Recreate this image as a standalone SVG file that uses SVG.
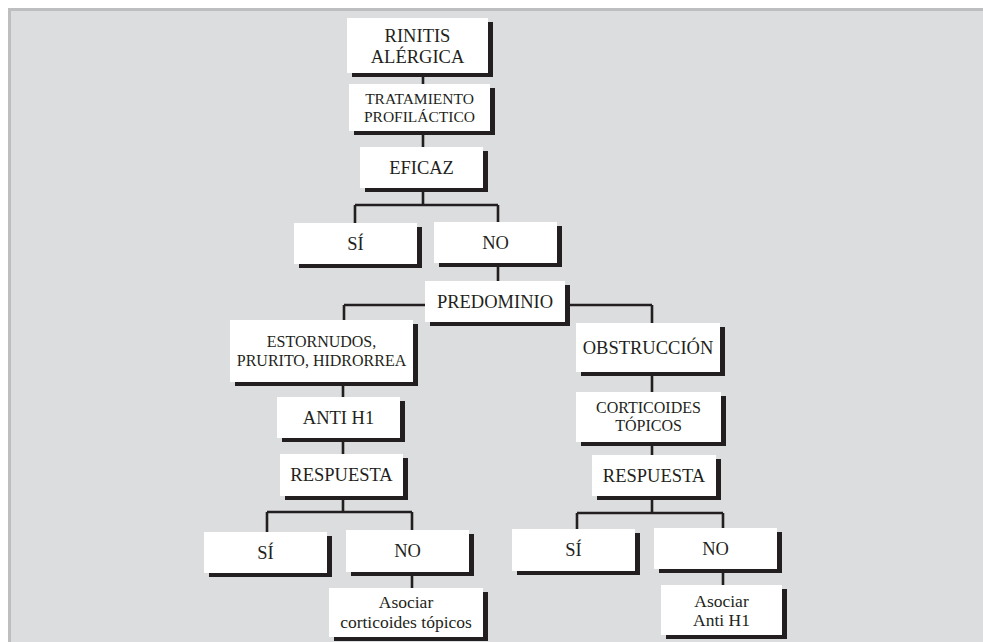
<svg xmlns="http://www.w3.org/2000/svg" width="983" height="642" viewBox="0 0 983 642">
<style>
.sh{fill:#231f20}
.bx{fill:#ffffff}
text{font-family:'Liberation Serif','DejaVu Serif',serif;font-size:18.5px;fill:#231f20;text-anchor:middle}
.s{font-size:15.5px}
.m{font-size:16px}
.a{font-size:17.5px}
.c{fill:none;stroke:#231f20;stroke-width:2.6}
</style>
<rect x="0" y="0" width="983" height="642" fill="#ffffff"/>
<rect x="8" y="8" width="975" height="634" fill="#bdbec0"/>
<rect x="11" y="11" width="972" height="631" fill="#dcdddf"/>
<g id="connectors">
<path class="c" d="M423,73V84M423,131V147M423,188V205M355,205H498M355,205V223M498,205V222M498,263V281"/>
<path class="c" d="M344,305H652M344,305V320M652,305V323"/>
<path class="c" d="M343,382V454M343,496V512M267,512H412M267,512V532M412,512V530M412,572V588"/>
<path class="c" d="M652,372V455M652,496V513M577,513H723M577,513V529M723,513V528M723,569V585"/>
</g>
<g id="rinitis"><rect class="sh" x="352" y="22" width="141" height="55"/><rect class="bx" x="347" y="18" width="141" height="55"/><text x="417.5" y="42">RINITIS</text><text x="417.5" y="63">ALÉRGICA</text></g>
<g id="tratamiento"><rect class="sh" x="354" y="88" width="141" height="47"/><rect class="bx" x="349" y="84" width="141" height="47"/><text class="s" x="419.5" y="104">TRATAMIENTO</text><text class="s" x="419.5" y="122">PROFILÁCTICO</text></g>
<g id="eficaz"><rect class="sh" x="365" y="151" width="123" height="41"/><rect class="bx" x="360" y="147" width="123" height="41"/><text x="421.5" y="174">EFICAZ</text></g>
<g id="si1"><rect class="sh" x="299" y="227" width="123" height="41"/><rect class="bx" x="294" y="223" width="123" height="41"/><text x="355.5" y="250">SÍ</text></g>
<g id="no1"><rect class="sh" x="439" y="226" width="123" height="41"/><rect class="bx" x="434" y="222" width="123" height="41"/><text x="495.5" y="249">NO</text></g>
<g id="predominio"><rect class="sh" x="430" y="285" width="140" height="41"/><rect class="bx" x="425" y="281" width="140" height="41"/><text x="495" y="308">PREDOMINIO</text></g>
<g id="estornudos"><rect class="sh" x="235" y="324" width="183" height="62"/><rect class="bx" x="230" y="320" width="183" height="62"/><text class="m" x="321.5" y="347">ESTORNUDOS,</text><text class="m" x="321.5" y="366">PRURITO, HIDRORREA</text></g>
<g id="obstruccion"><rect class="sh" x="581" y="327" width="144" height="49"/><rect class="bx" x="576" y="323" width="144" height="49"/><text x="648" y="354">OBSTRUCCIÓN</text></g>
<g id="antih1"><rect class="sh" x="282" y="401" width="123" height="41"/><rect class="bx" x="277" y="397" width="123" height="41"/><text x="338.5" y="424">ANTI H1</text></g>
<g id="corticoides"><rect class="sh" x="581" y="396" width="145" height="50"/><rect class="bx" x="576" y="392" width="145" height="50"/><text class="m" x="648.5" y="413">CORTICOIDES</text><text class="m" x="648.5" y="431">TÓPICOS</text></g>
<g id="respuesta1"><rect class="sh" x="285" y="458" width="123" height="42"/><rect class="bx" x="280" y="454" width="123" height="42"/><text x="341.5" y="481">RESPUESTA</text></g>
<g id="respuesta2"><rect class="sh" x="597" y="459" width="124" height="41"/><rect class="bx" x="592" y="455" width="124" height="41"/><text x="654" y="482">RESPUESTA</text></g>
<g id="si2"><rect class="sh" x="209" y="536" width="123" height="41"/><rect class="bx" x="204" y="532" width="123" height="41"/><text x="265.5" y="559">SÍ</text></g>
<g id="no2"><rect class="sh" x="351" y="534" width="123" height="42"/><rect class="bx" x="346" y="530" width="123" height="42"/><text x="407.5" y="557">NO</text></g>
<g id="asociar1"><rect class="sh" x="334" y="592" width="154" height="49"/><rect class="bx" x="329" y="588" width="154" height="49"/><text class="a" x="406" y="608">Asociar</text><text class="a" x="406" y="628">corticoides tópicos</text></g>
<g id="si3"><rect class="sh" x="517" y="533" width="123" height="42"/><rect class="bx" x="512" y="529" width="123" height="42"/><text x="573.5" y="556">SÍ</text></g>
<g id="no3"><rect class="sh" x="659" y="532" width="123" height="41"/><rect class="bx" x="654" y="528" width="123" height="41"/><text x="715.5" y="555">NO</text></g>
<g id="asociar2"><rect class="sh" x="666" y="589" width="121" height="50"/><rect class="bx" x="661" y="585" width="121" height="50"/><text class="a" x="721.5" y="607">Asociar</text><text class="a" x="721.5" y="626">Anti H1</text></g>
</svg>
